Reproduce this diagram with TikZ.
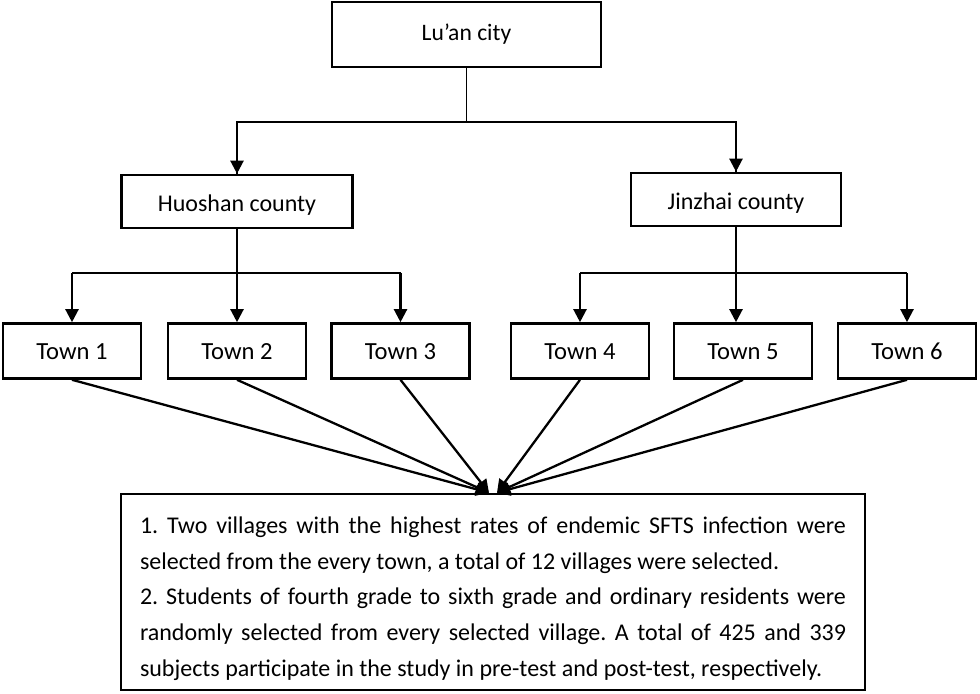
\documentclass[tikz,border=0pt]{standalone}
\usepackage{fontspec}
\setmainfont{Carlito}
\usepackage{tikz}
\usetikzlibrary{arrows.meta, positioning, calc}

\begin{document}
\begin{tikzpicture}[x=0.5pt, y=-0.5pt,
  font=\fontsize{12}{17.8}\selectfont\frenchspacing,
  box/.style={draw, line width=1.3pt, inner sep=0pt},
  citybox/.style={box, minimum width=134.5pt, minimum height=32.5pt, font=\fontsize{11.8}{14}\selectfont},
  countybox/.style={box, minimum height=26.5pt, text height=10pt, text depth=0pt},
  townbox/.style={box, minimum width=69pt, minimum height=27.5pt, text height=9pt, text depth=0pt, font=\fontsize{12.3}{14}\selectfont},
  notebox/.style={box, minimum width=372pt, minimum height=98pt, text width=353pt, align=justify},
  thinline/.style={line width=0.6pt},
  link/.style={line width=1pt},
  arr/.style={line width=1.15pt, -{Triangle[length=6.5pt, width=6.5pt]}}]
  \useasboundingbox (0,0) rectangle (980,694);
  % levels
  \node[citybox] (city) at (466.5,34.5) {Lu’an city};
  \node[countybox, minimum width=115.5pt] (huoshan) at (237,201.5) {Huoshan county};
  \node[countybox, minimum width=105pt] (jinzhai) at (736,199.5) {Jinzhai county};
  \node[townbox] (town1) at (72,351) {Town 1};
  \node[townbox] (town2) at (237,351) {Town 2};
  \node[townbox] (town3) at (400.5,351) {Town 3};
  \node[townbox] (town4) at (580,351) {Town 4};
  \node[townbox] (town5) at (743,351) {Town 5};
  \node[townbox] (town6) at (907,351) {Town 6};
  \node[notebox] (notes) at (493,592) {\rule{0pt}{15pt}1. Two villages with the highest rates of endemic SFTS infection were\linebreak
    selected from the every town, a total of 12 villages were selected.\\
    2. Students of fourth grade to sixth grade and ordinary residents were\linebreak
    randomly selected from every selected village. A total of 425 and 339\linebreak
    subjects participate in the study in pre-test and post-test, respectively.};
  % city to counties
  \coordinate (cityjoin) at (city.south |- 0,122);
  \draw[thinline] (city.south) -- (cityjoin);
  \draw[thinline] (cityjoin) -| (huoshan.north);
  \draw[thinline] (cityjoin) -| (jinzhai.north);
  \draw[arr] ($(huoshan.north)+(0,-35)$) -- (huoshan.north);
  \draw[arr] ($(jinzhai.north)+(0,-35)$) -- (jinzhai.north);
  % counties to towns
  \coordinate (hsjoin) at (huoshan.south |- 0,273);
  \coordinate (jzjoin) at (jinzhai.south |- 0,273);
  \draw[link] (hsjoin -| town1.north) -- (hsjoin -| town3.north);
  \draw[link] (jzjoin -| town4.north) -- (jzjoin -| town6.north);
  \draw[arr] (huoshan.south) -- (town2.north);
  \draw[arr] (jinzhai.south) -- (jinzhai.south |- town5.north);
  \foreach \t in {town1,town3}
    \draw[arr] (hsjoin -| \t.north) -- (\t.north);
  \foreach \t in {town4,town6}
    \draw[arr] (jzjoin -| \t.north) -- (\t.north);
  % towns to notes
  \foreach \t in {town1,town2,town3}
    \draw[arr] (\t.south) -- ([xshift=-2pt]notes.north);
  \foreach \t in {town4,town5,town6}
    \draw[arr] (\t.south) -- ([xshift=2pt]notes.north);
\end{tikzpicture}
\end{document}
